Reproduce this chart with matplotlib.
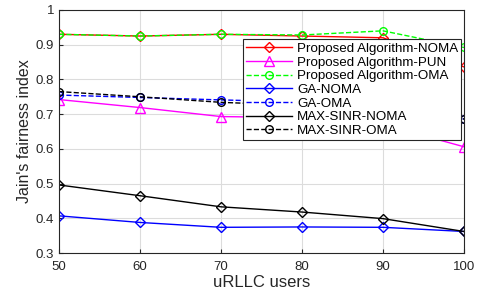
import matplotlib
matplotlib.use("Agg")
import matplotlib.pyplot as plt

plt.rcParams['font.family'] = ['Liberation Sans', 'DejaVu Sans']

users = [50, 60, 70, 80, 90, 100]

prop_noma = [0.930, 0.925, 0.930, 0.925, 0.920, 0.836]
prop_pun = [0.742, 0.719, 0.693, 0.690, 0.670, 0.606]
prop_oma = [0.930, 0.925, 0.930, 0.928, 0.940, 0.892]
ga_noma = [0.407, 0.388, 0.374, 0.375, 0.374, 0.362]
ga_oma = [0.755, 0.748, 0.741, 0.735, 0.725, 0.686]
ms_noma = [0.496, 0.465, 0.433, 0.418, 0.399, 0.362]
ms_oma = [0.765, 0.750, 0.734, 0.725, 0.715, 0.686]

fig = plt.figure(figsize=(4.8, 2.97), dpi=100)
ax = fig.add_axes([59 / 480, 44 / 297, 405 / 480, 243 / 297])

ms = 5.5
ax.plot(users, prop_noma, '-', color='#ff0000', marker='D', mfc='none', ms=ms, lw=1, label='Proposed Algorithm-NOMA')
ax.plot(users, prop_pun, '-', color='#ff00ff', marker='^', mfc='none', ms=ms + 1, lw=1, label='Proposed Algorithm-PUN')
ax.plot(users, prop_oma, '--', color='#00ff00', marker='o', mfc='none', ms=ms, lw=1, label='Proposed Algorithm-OMA')
ax.plot(users, ga_noma, '-', color='#0000ff', marker='D', mfc='none', ms=ms, lw=1, label='GA-NOMA')
ax.plot(users, ga_oma, '--', color='#0000ff', marker='o', mfc='none', ms=ms, lw=1, label='GA-OMA')
ax.plot(users, ms_noma, '-', color='#000000', marker='D', mfc='none', ms=ms, lw=1, label='MAX-SINR-NOMA')
ax.plot(users, ms_oma, '--', color='#000000', marker='o', mfc='none', ms=ms, lw=1, label='MAX-SINR-OMA')

ax.set_xlim(50, 100)
ax.set_ylim(0.3, 1.0)
ax.set_xticks(users)
ax.set_yticks([0.3, 0.4, 0.5, 0.6, 0.7, 0.8, 0.9, 1.0])
ax.set_yticklabels(['0.3', '0.4', '0.5', '0.6', '0.7', '0.8', '0.9', '1'])
ax.grid(True, color='#dcdcdc', lw=0.8)
ax.set_axisbelow(True)
ax.tick_params(labelsize=9.5, colors='#262626', direction='in', length=3)
ax.tick_params(axis='x', pad=6)
for s in ax.spines.values():
    s.set_color('#262626')
    s.set_linewidth(0.8)

ax.set_xlabel('uRLLC users', fontsize=12, color='#262626', labelpad=1)
ax.set_ylabel("Jain's fairness index", fontsize=11.5, color='#262626', labelpad=3)

leg = ax.legend(loc='upper right', bbox_to_anchor=(1.0, 0.89), fontsize=9.6,
                frameon=True, fancybox=False, edgecolor='#262626', framealpha=1,
                borderpad=0.25, labelspacing=0.1, handlelength=3.4,
                handletextpad=0.4, borderaxespad=0.2)
leg.get_frame().set_linewidth(0.8)

fig.savefig('out.png', dpi=100)
